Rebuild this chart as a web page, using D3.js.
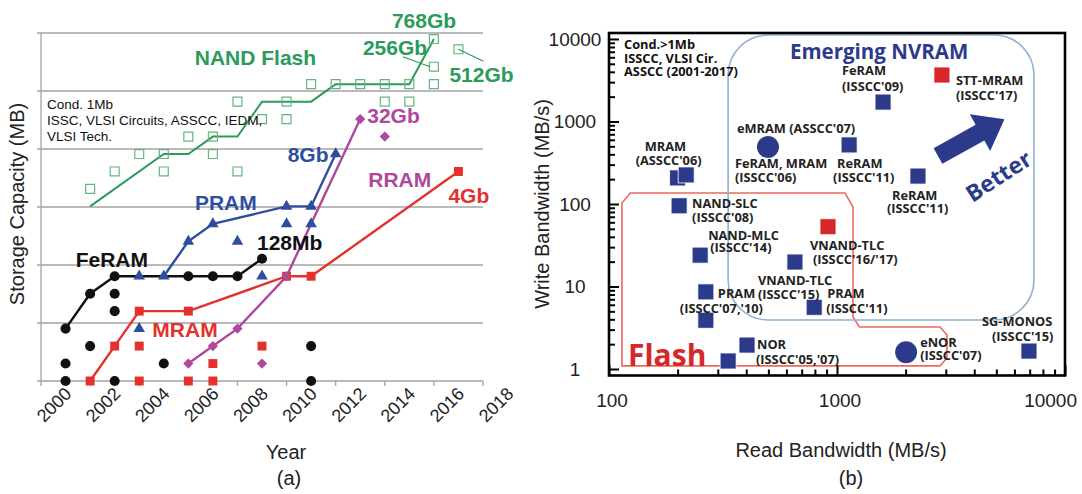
<!DOCTYPE html>
<html>
<head>
<meta charset="utf-8">
<script src="https://cdn.jsdelivr.net/npm/d3@7"></script>
<style>
  html, body { margin: 0; padding: 0; background: #fff; }
  svg { display: block; }
</style>
</head>
<body>
<div id="chart"></div>
<script>
// ---------- (a) storage capacity vs year, values in Mb ----------
const yearTicks = [2000, 2002, 2004, 2006, 2008, 2010, 2012, 2014, 2016, 2018];
const capacityGrid = [1, 10, 100, 1000, 1e4, 1e5, 1e6];

const nandLine = [[2001, 1024], [2004, 8192], [2005, 8192], [2006, 16384], [2007, 16384], [2008, 65536],
  [2010, 65536], [2011, 131072], [2014, 131072], [2015, 786432]];
const nandPoints = [[2001, 2048], [2002, 4096], [2003, 8192], [2004, 8192], [2004, 4096], [2005, 16384],
  [2006, 16384], [2006, 8192], [2007, 65536], [2007, 4096], [2008, 32768], [2009, 65536], [2009, 32768],
  [2010, 131072], [2011, 131072], [2012, 131072], [2013, 131072], [2013, 65536], [2014, 131072],
  [2014, 65536], [2015, 131072], [2015, 262144], [2015, 786432], [2016, 524288]];

const feramLine = [[2000, 8], [2001, 32], [2002, 64], [2005, 64], [2006, 64], [2007, 64], [2008, 128]];
const feramOther = [[2000, 2], [2000, 1], [2001, 4], [2002, 32], [2002, 16], [2002, 1], [2004, 2], [2010, 4], [2010, 1]];

const pramLine = [[2004, 64], [2005, 256], [2006, 512], [2009, 1024], [2010, 1024], [2011, 8192]];
const pramOther = [[2003, 64], [2003, 8], [2007, 256], [2008, 64], [2009, 512], [2010, 512]];

const mramLine = [[2001, 1], [2002, 4], [2003, 16], [2005, 16], [2009, 64], [2010, 64], [2016, 4096]];
const mramOther = [[2003, 4], [2003, 1], [2005, 1], [2006, 2], [2006, 1], [2008, 4]];

const rramLine = [[2005, 2], [2006, 4], [2007, 8], [2009, 64], [2012, 32768]];
const rramOther = [[2008, 2], [2013, 16384]];

// ---------- (b) write vs read bandwidth (MB/s) ----------
const readTicks = [100, 1000, 10000];
const writeTicks = [1, 10, 100, 1000, 10000];

const bwPoints = [
  { id: 'mramA', read: 200, write: 207, shape: 'square' },
  { id: 'mramB', read: 218, write: 225, shape: 'square' },
  { id: 'nandSlc', read: 203, write: 95, shape: 'square' },
  { id: 'nandMlc', read: 251, write: 24, shape: 'square' },
  { id: 'pramA', read: 266, write: 8.6, shape: 'square' },
  { id: 'pramB', read: 266, write: 3.9, shape: 'square' },
  { id: 'norA', read: 333, write: 1.25, shape: 'square' },
  { id: 'norB', read: 403, write: 1.95, shape: 'square' },
  { id: 'emram', read: 498, write: 490, shape: 'circle' },
  { id: 'reramA', read: 1130, write: 520, shape: 'square' },
  { id: 'reramB', read: 2265, write: 218, shape: 'square' },
  { id: 'feram09', read: 1592, write: 1720, shape: 'square' },
  { id: 'sttmram', read: 2885, write: 3660, shape: 'square', latest: true },
  { id: 'vnand1617', read: 913, write: 53, shape: 'square', latest: true },
  { id: 'vnand15', read: 654, write: 19.8, shape: 'square' },
  { id: 'pram11', read: 794, write: 5.6, shape: 'square' },
  { id: 'enor', read: 2010, write: 1.6, shape: 'circle' },
  { id: 'sgmonos', read: 6950, write: 1.65, shape: 'square' },
];

const bwLabels = [
  { at: 'mramA', lines: ['MRAM', "(ASSCC'06)"] },
  { at: 'nandSlc', lines: ['NAND-SLC', "(ISSCC'08)"] },
  { at: 'nandMlc', lines: ['NAND-MLC', "(ISSCC'14)"] },
  { at: 'pramA', lines: ['PRAM', "(ISSCC'07,'10)"] },
  { at: 'norB', lines: ['NOR', "(ISSCC'05,'07)"] },
  { at: 'emram', lines: ["eMRAM (ASSCC'07)", 'FeRAM, MRAM', "(ISSCC'06)"] },
  { at: 'reramA', lines: ['ReRAM', "(ISSCC'11)"] },
  { at: 'reramB', lines: ['ReRAM', "(ISSCC'11)"] },
  { at: 'feram09', lines: ['FeRAM', "(ISSCC'09)"] },
  { at: 'sttmram', lines: ['STT-MRAM', "(ISSCC'17)"] },
  { at: 'vnand1617', lines: ['VNAND-TLC', "(ISSCC'16/'17)"] },
  { at: 'vnand15', lines: ['VNAND-TLC', "(ISSCC'15)"] },
  { at: 'pram11', lines: ['PRAM', "(ISSCC'11)"] },
  { at: 'enor', lines: ['eNOR', "(ISSCC'07)"] },
  { at: 'sgmonos', lines: ['SG-MONOS', "(ISSCC'15)"] },
];

// region outlines in data space (read, write)
const flashRegion = [[114, 1.09], [114, 103], [124, 136], [1084, 136], [1175, 92], [1175, 4.27],
  [1254, 3.23], [2830, 3.23], [3035, 2.58], [3035, 1.36], [2830, 1.09]];
const nvramRegion = { read: [333, 7310], write: [3.93, 11170] };

// ---------- layout ----------
const W = 1082, H = 494;
const FONT = "'Liberation Sans', Arial, sans-serif";
const BFONT = "'Open Sans', 'Liberation Sans', sans-serif";
const C = { nand: '#2b9a5a', nandSq: '#62b67e', feram: '#111', pram: '#2f4d9e', mram: '#e3312b',
  rram: '#b0479e', navy: '#2c3a8c', red: '#d6282a', grid: '#a3a3a3' };

// per-line placement of panel (b) labels: [dx, dy] from the point
const bwLabelOffsets = {
  mramA: [[-33, -27], [-42, -13]],
  nandSlc: [[13, 2], [13, 16]],
  nandMlc: [[8, -15], [10, -3]],
  pramA: [[12, 6], [-26, 21]],
  norB: [[10, 4], [9, 19]],
  emram: [[-31, -14], [-33, 21], [-33, 35]],
  reramA: [[-12, 23], [-16, 37]],
  reramB: [[-26, 24], [-31, 37]],
  feram09: [[-41, -27], [-41, -11]],
  sttmram: [[14, 10], [14, 25]],
  vnand1617: [[-18, 23], [-15, 37]],
  vnand15: [[-37, 23], [-37, 37]],
  pram11: [[13, -9], [12, 6]],
  enor: [[14, -5], [14, 8]],
  sgmonos: [[-47, -25], [-37, -10]],
};

const svg = d3.select('#chart').append('svg')
  .attr('width', W).attr('height', H)
  .attr('viewBox', `0 0 ${W} ${H}`);
svg.append('rect').attr('width', W).attr('height', H).attr('fill', '#fff');

// =====================  PANEL (a)  =====================
const xA = d3.scaleLinear().domain([1999, 2017]).range([41, 483]);
const yA = d3.scaleLog().domain([1, 1e6]).range([381, 33]);
const gA = svg.append('g');

// GRID
gA.selectAll('line.grid').data(capacityGrid).enter().append('line')
  .attr('x1', xA(1999) - 4).attr('x2', xA(2017))
  .attr('y1', d => yA(d)).attr('y2', d => yA(d))
  .attr('stroke', C.grid).attr('stroke-width', 1.3);
gA.append('line').attr('x1', xA(1999)).attr('x2', xA(1999))
  .attr('y1', yA(1e6)).attr('y2', yA(1)).attr('stroke', C.grid).attr('stroke-width', 1.3);
gA.selectAll('line.xt').data(d3.range(1999, 2018, 2)).enter().append('line')
  .attr('x1', d => xA(d)).attr('x2', d => xA(d))
  .attr('y1', yA(1)).attr('y2', yA(1) + 5)
  .attr('stroke', C.grid).attr('stroke-width', 1.3);

gA.selectAll('text.yr').data(yearTicks).enter().append('text')
  .attr('transform', d => `translate(${xA(d) + 7},${yA(1) + 14}) rotate(-45)`)
  .attr('text-anchor', 'end')
  .style('font-family', FONT).style('font-size', '18px').attr('fill', '#222')
  .text(d => d);

const line = d3.line().x(d => xA(d[0])).y(d => yA(d[1]));

function markers(g, data, shape, color, opts = {}) {
  const paths = {
    circle: d3.symbol(d3.symbolCircle, 80)(),
    square: d3.symbol(d3.symbolSquare, 80)(),
    triangle: d3.symbol(d3.symbolTriangle, 58)(),
    diamond: d3.symbol(d3.symbolSquare, 52)(),
  };
  g.selectAll(null).data(data).enter().append('path')
    .attr('d', paths[shape])
    .attr('transform', d => `translate(${xA(d[0])},${yA(d[1])})` + (shape === 'diamond' ? ' rotate(45)' : ''))
    .attr('fill', opts.hollow ? '#fff' : color)
    .attr('fill-opacity', opts.hollow ? 0 : 1)
    .attr('stroke', opts.hollow ? color : 'none')
    .attr('stroke-width', 1.2);
}

// NAND
gA.append('path').datum(nandLine).attr('d', line).attr('fill', 'none')
  .attr('stroke', C.nand).attr('stroke-width', 2);
markers(gA, nandPoints, 'square', C.nandSq, { hollow: true });

// other series
const series = [
  { line: mramLine, other: mramOther, shape: 'square', color: C.mram },
  { line: rramLine, other: rramOther, shape: 'diamond', color: C.rram },
  { line: pramLine, other: pramOther, shape: 'triangle', color: C.pram },
  { line: feramLine, other: feramOther, shape: 'circle', color: C.feram },
];
series.forEach(s => {
  gA.append('path').datum(s.line).attr('d', line).attr('fill', 'none')
    .attr('stroke', s.color).attr('stroke-width', 2.4);
});
series.forEach(s => {
  markers(gA, s.line, s.shape, s.color);
  markers(gA, s.other, s.shape, s.color);
});

// LABELS (a)
const annA = [
  { text: 'NAND Flash', at: [2004, 8192], dx: 31, dy: -89, color: C.nand },
  { text: '768Gb', at: [2015, 786432], dx: -42, dy: -11, color: C.nand },
  { text: '256Gb', at: [2015, 262144], dx: -71, dy: -12, color: C.nand },
  { text: '512Gb', at: [2016, 524288], dx: -9, dy: 33, color: C.nand },
  { text: '32Gb', at: [2012, 32768], dx: 7, dy: 4, color: C.rram },
  { text: 'RRAM', at: [2012, 32768], dx: 8, dy: 68, color: C.rram },
  { text: '8Gb', at: [2011, 8192], dx: -48, dy: 8, color: C.pram },
  { text: 'PRAM', at: [2006, 512], dx: -18, dy: -14, color: C.pram },
  { text: '4Gb', at: [2016, 4096], dx: -10, dy: 31.5, color: C.mram },
  { text: 'MRAM', at: [2005, 16], dx: -36, dy: 26, color: C.mram },
  { text: '128Mb', at: [2008, 128], dx: -5, dy: -9, color: C.feram },
  { text: 'FeRAM', at: [2002, 64], dx: -39, dy: -9, color: C.feram },
];
gA.selectAll('text.ann').data(annA).enter().append('text')
  .attr('x', d => xA(d.at[0]) + d.dx).attr('y', d => yA(d.at[1]) + d.dy)
  .style('font-family', FONT).style('font-size', '21px').style('font-weight', 'bold')
  .attr('fill', d => d.color).text(d => d.text);

// leader lines for 256Gb / 512Gb
const leaders = [
  { at: [2015, 262144], from: [-31, -10], to: [-4, 0] },
  { at: [2016, 524288], from: [0, 0], to: [25, 12] },
];
gA.selectAll('line.lead').data(leaders).enter().append('line')
  .attr('x1', d => xA(d.at[0]) + d.from[0]).attr('y1', d => yA(d.at[1]) + d.from[1])
  .attr('x2', d => xA(d.at[0]) + d.to[0]).attr('y2', d => yA(d.at[1]) + d.to[1])
  .attr('stroke', C.nand).attr('stroke-width', 1.2);

gA.append('text').attr('x', xA(1999) + 6).attr('y', 109)
  .style('font-family', FONT).style('font-size', '13.5px').attr('fill', '#111')
  .selectAll('tspan').data(['Cond. 1Mb', 'ISSC, VLSI Circuits, ASSCC, IEDM,', 'VLSI Tech.'])
  .enter().append('tspan').attr('x', xA(1999) + 6).attr('dy', (d, i) => i ? 16 : 0).text(d => d);

gA.append('text').attr('transform', 'translate(24,204) rotate(-90)').attr('text-anchor', 'middle')
  .style('font-family', FONT).style('font-size', '20px').attr('fill', '#222').text('Storage Capacity (MB)');
gA.append('text').attr('x', 286).attr('y', 459).attr('text-anchor', 'middle')
  .style('font-family', FONT).style('font-size', '20px').attr('fill', '#222').text('Year');
gA.append('text').attr('x', 289).attr('y', 485).attr('text-anchor', 'middle')
  .style('font-family', FONT).style('font-size', '20px').attr('fill', '#222').text('(a)');

// =====================  PANEL (b)  =====================
const xB = d3.scaleLog().domain([100, 10000]).range([609, 1065]);
const yB = d3.scaleLog().domain([0.834, 11820]).range([375.5, 33]);
const gB = svg.append('g');

// regions
gB.append('path')
  .attr('d', d3.line().x(d => xB(d[0])).y(d => yB(d[1])).curve(d3.curveLinearClosed)(flashRegion))
  .attr('fill', 'none').attr('stroke', '#f0675e').attr('stroke-width', 1.6);
gB.append('rect')
  .attr('x', xB(nvramRegion.read[0])).attr('y', yB(nvramRegion.write[1]))
  .attr('width', xB(nvramRegion.read[1]) - xB(nvramRegion.read[0]))
  .attr('height', yB(nvramRegion.write[0]) - yB(nvramRegion.write[1]))
  .attr('rx', 40).attr('ry', 40)
  .attr('fill', 'none').attr('stroke', '#8fb0d2').attr('stroke-width', 1.6);

// AXES
const minorX = [2, 3, 4, 5, 6, 7, 8, 9].flatMap(m => [m * 100, m * 1000]);
const minorY = [2, 3, 4, 5, 6, 7, 8, 9].flatMap(m => [m, m * 10, m * 100, m * 1000]);
const styleAxis = g => {
  g.select('.domain').remove();
  g.selectAll('line').attr('stroke', '#000').attr('stroke-width', 2);
  g.selectAll('text').remove();
};
gB.append('g').attr('transform', `translate(0,${yB.range()[0]})`)
  .call(d3.axisTop(xB).tickValues(readTicks).tickSize(10)).call(styleAxis);
gB.append('g').attr('transform', `translate(0,${yB.range()[0]})`)
  .call(d3.axisTop(xB).tickValues(minorX).tickSize(6)).call(styleAxis);
gB.append('g').attr('transform', `translate(${xB.range()[0]},0)`)
  .call(d3.axisRight(yB).tickValues(writeTicks).tickSize(10)).call(styleAxis);
gB.append('g').attr('transform', `translate(${xB.range()[0]},0)`)
  .call(d3.axisRight(yB).tickValues(minorY).tickSize(6)).call(styleAxis);

gB.append('rect').attr('x', 609).attr('y', 33).attr('width', 1065 - 609).attr('height', 375.5 - 33)
  .attr('fill', 'none').attr('stroke', '#000').attr('stroke-width', 2.6);

gB.selectAll('text.xl').data(readTicks).enter().append('text')
  .attr('x', (d, i) => i === readTicks.length - 1 ? xB(d) + 12 : xB(d) + 3)
  .attr('y', 407)
  .attr('text-anchor', (d, i) => i === readTicks.length - 1 ? 'end' : 'middle')
  .style('font-family', FONT).style('font-size', '19px').attr('fill', '#222').text(d => d);
gB.selectAll('text.yl').data(writeTicks).enter().append('text')
  .attr('x', 575).attr('y', d => yB(d) + 7).attr('text-anchor', 'middle')
  .style('font-family', FONT).style('font-size', '19px').attr('fill', '#222').text(d => d);

gB.append('text').attr('transform', 'translate(549,204) rotate(-90)').attr('text-anchor', 'middle')
  .style('font-family', FONT).style('font-size', '20px').attr('fill', '#222').text('Write Bandwidth (MB/s)');
gB.append('text').attr('x', 841).attr('y', 457).attr('text-anchor', 'middle')
  .style('font-family', FONT).style('font-size', '20px').attr('fill', '#222').text('Read Bandwidth (MB/s)');
gB.append('text').attr('x', 851).attr('y', 485).attr('text-anchor', 'middle')
  .style('font-family', FONT).style('font-size', '20px').attr('fill', '#222').text('(b)');

// POINTS
const byId = {};
bwPoints.forEach(p => { byId[p.id] = p; });
gB.selectAll('rect.pt').data(bwPoints.filter(p => p.shape === 'square')).enter().append('rect')
  .attr('x', d => xB(d.read) - 8).attr('y', d => yB(d.write) - 8)
  .attr('width', 16).attr('height', 16)
  .attr('fill', d => d.latest ? C.red : C.navy)
  .attr('stroke', '#fff').attr('stroke-width', 0.8);
gB.selectAll('circle.pt').data(bwPoints.filter(p => p.shape === 'circle')).enter().append('circle')
  .attr('cx', d => xB(d.read)).attr('cy', d => yB(d.write)).attr('r', 11)
  .attr('fill', C.navy);

// LABELS (b)
bwLabels.forEach(lb => {
  const p = byId[lb.at];
  const offs = bwLabelOffsets[lb.at];
  lb.lines.forEach((t, i) => {
    gB.append('text')
      .attr('x', xB(p.read) + offs[i][0]).attr('y', yB(p.write) + offs[i][1])
      .style('font-family', BFONT).style('font-size', '12.8px').style('font-weight', 'bold')
      .attr('fill', '#222').text(t);
  });
});

gB.append('text').attr('x', 624).attr('y', 49)
  .style('font-family', BFONT).style('font-size', '12.8px').style('font-weight', 'bold').attr('fill', '#111')
  .selectAll('tspan').data(['Cond.>1Mb', 'ISSCC, VLSI Cir.', 'ASSCC (2001-2017)'])
  .enter().append('tspan').attr('x', 624).attr('dy', (d, i) => i ? 13.5 : 0).text(d => d);

gB.append('text').attr('x', 790).attr('y', 59)
  .style('font-family', BFONT).style('font-size', '20.5px').style('font-weight', 'bold')
  .attr('fill', C.navy).text('Emerging NVRAM');
gB.append('text').attr('x', 628).attr('y', 366)
  .style('font-family', BFONT).style('font-size', '30px').style('font-weight', 'bold')
  .attr('fill', C.red).text('Flash');

// "Better" arrow
gB.append('path')
  .attr('d', 'M0,-9 L48,-9 L48,-21 L76,0 L48,21 L48,9 L0,9 Z')
  .attr('transform', 'translate(938,156) rotate(-29)')
  .attr('fill', C.navy);
gB.append('text').attr('transform', 'translate(1003,183) rotate(-33)').attr('text-anchor', 'middle')
  .style('font-family', BFONT).style('font-size', '23px').style('font-weight', 'bold')
  .attr('fill', C.navy).text('Better');
</script>
</body>
</html>
